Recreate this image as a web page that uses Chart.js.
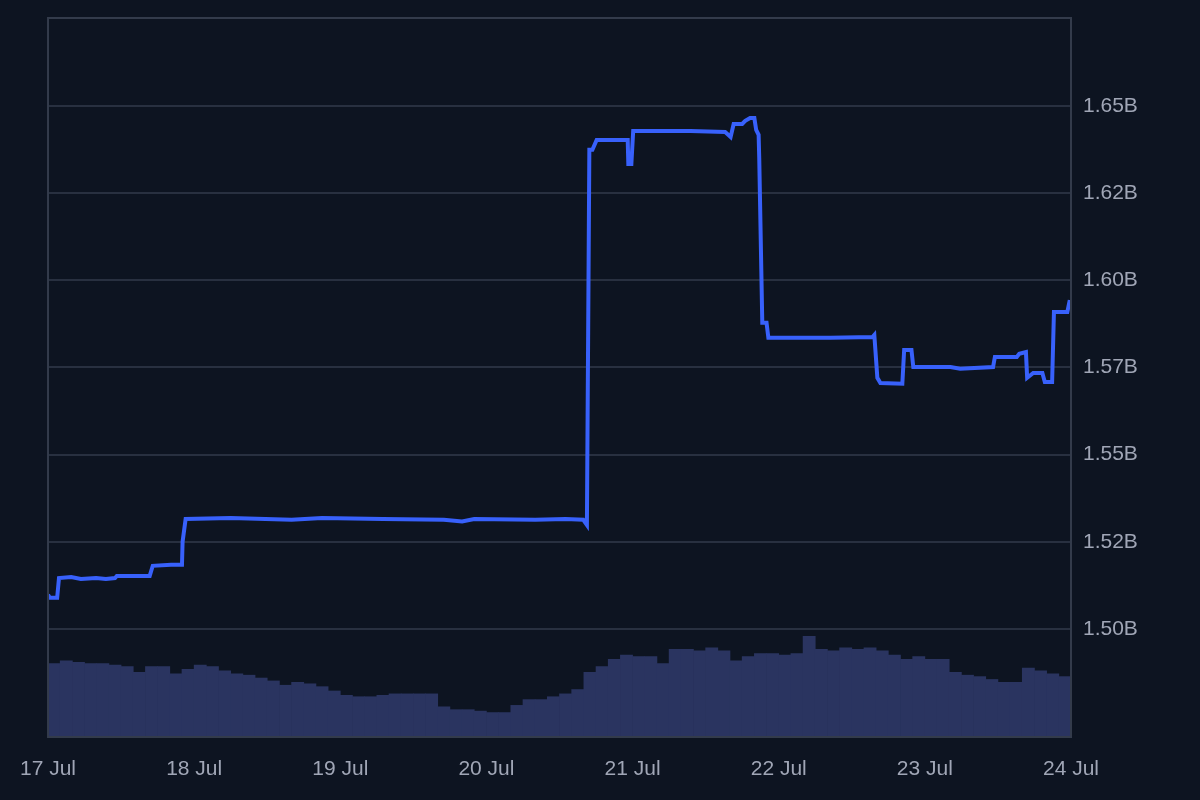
<!DOCTYPE html>
<html>
<head>
<meta charset="utf-8">
<script src="https://cdn.jsdelivr.net/npm/chart.js@4/dist/chart.umd.min.js"></script>
<style>
  html, body { margin: 0; padding: 0; background: #0d1421; }
  canvas { display: block; }
</style>
</head>
<body>
<canvas id="chart" width="1200" height="800"></canvas>
<script>
// hours since 17 Jul 00:00
const priceHours = [
  0, 0.3, 1.5, 1.8, 3.8, 5.4, 7.9, 9.5, 11, 11.3, 13.6, 16.7, 17.2, 20.2, 22, 22.1, 22.6,
  30, 40, 45, 55, 65, 68, 70, 80, 85, 87.9, 88.5, 88.9, 89.4, 90.1, 95.2, 95.3, 95.8, 96.1,
  100.6, 105.5, 111.2, 112.1, 112.6, 114, 114.5, 115.3, 116, 116.3, 116.7, 116.8, 117.3, 118, 118.3,
  123.5, 128.5, 135.4, 135.7, 136.2, 136.7, 140.3, 140.6, 141.8, 142.1, 148.2, 149.8, 155.2, 155.5,
  159.1, 159.5, 160.6, 160.8, 161.8, 163.3, 163.7, 164.9, 165.2, 167.4, 167.8
];
// market cap, billions
const priceValues = [
  1.5098, 1.5089, 1.5089, 1.5146, 1.5149, 1.5143, 1.5146, 1.5143, 1.5146, 1.5152, 1.5152, 1.5152, 1.5181, 1.5184, 1.5184, 1.5250, 1.5315,
  1.5318, 1.5313, 1.5318, 1.5315, 1.5313, 1.5308, 1.5315, 1.5313, 1.5315, 1.5313, 1.5298, 1.6374, 1.6374, 1.6402, 1.6402, 1.6333, 1.6333, 1.6428,
  1.6428, 1.6428, 1.6425, 1.6411, 1.6448, 1.6448, 1.6457, 1.6465, 1.6465, 1.6431, 1.6417, 1.6351, 1.5878, 1.5878, 1.5835,
  1.5835, 1.5835, 1.5837, 1.5843, 1.5720, 1.5705, 1.5703, 1.5800, 1.5800, 1.5751, 1.5751, 1.5746, 1.5751, 1.5780,
  1.5780, 1.5789, 1.5794, 1.5720, 1.5734, 1.5734, 1.5708, 1.5708, 1.5909, 1.5909, 1.5943
];

// volume, 2-hour buckets (centre hour), millions
const volumeHours = [
  1, 3, 5, 7, 9, 11, 13, 15, 17, 19, 21, 23, 25, 27, 29, 31, 33, 35, 37, 39, 41,
  43, 45, 47, 49, 51, 53, 55, 57, 59, 61, 63, 65, 67, 69, 71, 73, 75, 77, 79, 81, 83,
  85, 87, 89, 91, 93, 95, 97, 99, 101, 103, 105, 107, 109, 111, 113, 115, 117, 119, 121, 123, 125,
  127, 129, 131, 133, 135, 137, 139, 141, 143, 145, 147, 149, 151, 153, 155, 157, 159, 161, 163, 165, 167
];
const volumeValues = [
  51, 53, 52, 51, 51, 50, 49, 45, 49, 49, 44, 47, 50, 49, 46, 44, 43, 41, 39, 36, 38,
  37, 35, 32, 29, 28, 28, 29, 30, 30, 30, 30, 21, 19, 19, 18, 17, 17, 22, 26, 26, 28,
  30, 33, 45, 49, 54, 57, 56, 56, 51, 61, 61, 60, 62, 60, 53, 56, 58, 58, 57, 58, 70,
  61, 60, 62, 61, 62, 60, 57, 54, 56, 54, 54, 45, 43, 42, 40, 38, 38, 48, 46, 44, 42
];

const xTicks = [0, 24, 48, 72, 96, 120, 144, 168];
const xTickLabels = ['17 Jul', '18 Jul', '19 Jul', '20 Jul', '21 Jul', '22 Jul', '23 Jul', '24 Jul'];
const yTicks = [1.500, 1.525, 1.550, 1.575, 1.600, 1.625, 1.650];
const yTickLabels = ['1.50B', '1.52B', '1.55B', '1.57B', '1.60B', '1.62B', '1.65B'];

const textColor = '#a0a6b6';
const gridColor = '#283040';
const borderColor = '#333b4b';

const frame = {
  id: 'frame',
  afterDatasetsDraw(chart) {
    const { ctx, chartArea: a } = chart;
    ctx.save();
    ctx.strokeStyle = borderColor;
    ctx.lineWidth = 2;
    ctx.strokeRect(a.left, a.top, a.right - a.left, a.bottom - a.top);
    ctx.restore();
  }
};

new Chart(document.getElementById('chart').getContext('2d'), {
  type: 'bar',
  data: {
    datasets: [
      {
        type: 'line',
        data: priceHours.map((h, i) => ({ x: h, y: priceValues[i] })),
        borderColor: '#3861fb',
        borderWidth: 4,
        pointRadius: 0,
        tension: 0,
        yAxisID: 'y',
        order: 0
      },
      {
        type: 'bar',
        data: volumeHours.map((h, i) => ({ x: h, y: volumeValues[i] })),
        backgroundColor: '#2a3460',
        barPercentage: 1,
        categoryPercentage: 1,
        yAxisID: 'yVol',
        order: 1
      }
    ]
  },
  options: {
    responsive: false,
    devicePixelRatio: 1,
    animation: false,
    layout: { padding: { top: 18, left: 46, right: 0, bottom: 0 } },
    plugins: { legend: { display: false }, tooltip: { enabled: false } },
    scales: {
      x: {
        type: 'linear',
        min: 0,
        max: 168,
        offset: false,
        grid: { display: false, drawTicks: false },
        border: { display: false },
        afterBuildTicks: (s) => { s.ticks = xTicks.map(v => ({ value: v })); },
        afterFit: (s) => { s.height = 63; },
        ticks: {
          color: textColor,
          font: { family: 'Liberation Sans, Arial, sans-serif', size: 21 },
          padding: 20,
          maxRotation: 0,
          callback: (v, i) => xTickLabels[i]
        }
      },
      y: {
        position: 'right',
        min: 1.469,
        max: 1.6752,
        grid: { color: gridColor, lineWidth: 2, drawTicks: false },
        border: { display: false },
        afterBuildTicks: (s) => { s.ticks = yTicks.map(v => ({ value: v })); },
        afterFit: (s) => { s.width = 129; s.paddingTop = 0; s.paddingBottom = 0; },
        ticks: {
          color: textColor,
          font: { family: 'Liberation Sans, Arial, sans-serif', size: 21 },
          padding: 12,
          callback: (v, i) => yTickLabels[i]
        }
      },
      yVol: {
        display: false,
        min: 0,
        max: 500
      }
    }
  },
  plugins: [frame]
});
</script>
</body>
</html>
